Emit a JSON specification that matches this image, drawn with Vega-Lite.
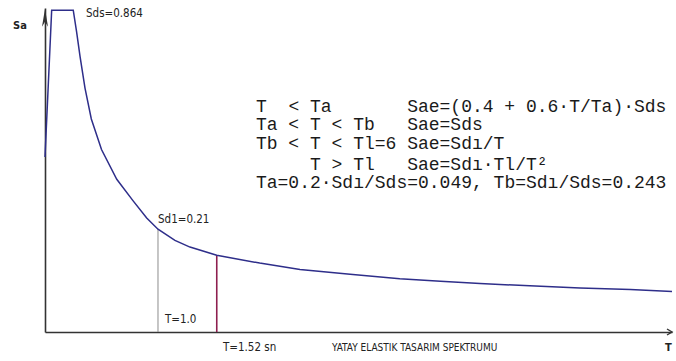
{
  "$schema": "https://vega.github.io/schema/vega-lite/v6.json",
  "width": 627,
  "height": 324,
  "autosize": {"type": "none"},
  "padding": {"left": 45, "top": 8, "right": 4, "bottom": 29},
  "background": "white",
  "config": {"view": {"stroke": null}},
  "datasets": {
    "curve": [
      {"T": 0, "Sa": 0.47},
      {"T": 0.059, "Sa": 0.864},
      {"T": 0.25, "Sa": 0.864},
      {"T": 0.28, "Sa": 0.805},
      {"T": 0.31, "Sa": 0.74},
      {"T": 0.354, "Sa": 0.655},
      {"T": 0.41, "Sa": 0.572},
      {"T": 0.5, "Sa": 0.49},
      {"T": 0.635, "Sa": 0.41},
      {"T": 0.78, "Sa": 0.352},
      {"T": 0.9, "Sa": 0.306},
      {"T": 1.0, "Sa": 0.276},
      {"T": 1.15, "Sa": 0.246},
      {"T": 1.283, "Sa": 0.228},
      {"T": 1.52, "Sa": 0.206},
      {"T": 1.9, "Sa": 0.185},
      {"T": 2.257, "Sa": 0.168},
      {"T": 2.7, "Sa": 0.155},
      {"T": 3.14, "Sa": 0.143},
      {"T": 3.5, "Sa": 0.136},
      {"T": 3.85, "Sa": 0.13},
      {"T": 4.29, "Sa": 0.124},
      {"T": 4.735, "Sa": 0.118},
      {"T": 5.18, "Sa": 0.114},
      {"T": 5.549, "Sa": 0.109}
    ],
    "labels": [
      {"T": 0.363, "Sa": 0.846, "label": "Sds=0.864"},
      {"T": 1.0, "Sa": 0.293, "label": "Sd1=0.21"},
      {"T": 1.062, "Sa": 0.024, "label": "T=1.0"},
      {"T": 1.575, "Sa": -0.05, "label": "T=1.52 sn"}
    ],
    "bold": [
      {"T": -0.283, "Sa": 0.814, "label": "Sa"},
      {"T": 5.487, "Sa": -0.052, "label": "T"}
    ],
    "title": [
      {"T": 2.54, "Sa": -0.05, "label": "YATAY ELASTIK TASARIM SPEKTRUMU"}
    ],
    "formula": [
      {"T": 1.867, "Sa": 0.591, "label": "T"},
      {"T": 2.154, "Sa": 0.591, "label": "< Ta"},
      {"T": 3.205, "Sa": 0.591, "label": "Sae=(0.4 + 0.6\u00b7T/Ta)\u00b7Sds"},
      {"T": 1.867, "Sa": 0.542, "label": "Ta < T < Tb"},
      {"T": 3.205, "Sa": 0.542, "label": "Sae=Sds"},
      {"T": 1.867, "Sa": 0.491, "label": "Tb < T < Tl=6"},
      {"T": 3.205, "Sa": 0.491, "label": "Sae=Sd\u0131/T"},
      {"T": 2.345, "Sa": 0.435, "label": "T > Tl"},
      {"T": 3.205, "Sa": 0.435, "label": "Sae=Sd\u0131\u00b7Tl/T\u00b2"},
      {"T": 1.867, "Sa": 0.387, "label": "Ta=0.2\u00b7Sd\u0131/Sds=0.049,"},
      {"T": 3.97, "Sa": 0.387, "label": "Tb=Sd\u0131/Sds=0.243"}
    ]
  },
  "encoding": {
    "x": {
      "field": "T", "type": "quantitative",
      "scale": {"domain": [0, 5.549], "nice": false, "zero": false},
      "axis": {"domain": true, "domainColor": "#333333", "domainWidth": 1.6, "ticks": false, "labels": false, "grid": false, "title": null}
    },
    "y": {
      "field": "Sa", "type": "quantitative",
      "scale": {"domain": [0, 0.87], "nice": false},
      "axis": {"domain": true, "domainColor": "#333333", "domainWidth": 1.6, "ticks": false, "labels": false, "grid": false, "title": null}
    }
  },
  "layer": [
    {
      "data": {"values": [{"T": 1.0, "Sa": 0.276}]},
      "mark": {"type": "rule", "color": "#8c8c8c", "strokeWidth": 1},
      "encoding": {"y2": {"datum": 0}}
    },
    {
      "data": {"values": [{"T": 1.52, "Sa": 0.206}]},
      "mark": {"type": "rule", "color": "#8e1f4f", "strokeWidth": 1.6},
      "encoding": {"y2": {"datum": 0}}
    },
    {
      "data": {"name": "curve"},
      "mark": {"type": "line", "color": "#2e2e8a", "strokeWidth": 1.5, "clip": false},
      "encoding": {}
    },
    {
      "data": {"values": [{"T": 0, "Sa": 0.868}]},
      "mark": {"type": "point", "shape": "M0,0L-0.3,1.8L0,1.3L0.3,1.8Z", "filled": true, "color": "#333333", "size": 400, "opacity": 1}
    },
    {
      "data": {"values": [{"T": 5.549, "Sa": 0}]},
      "mark": {"type": "point", "shape": "M-1,-0.6L0,0L-1,0.6", "filled": false, "color": "#333333", "strokeWidth": 1.4, "size": 100, "opacity": 1}
    },
    {
      "data": {"name": "labels"},
      "mark": {"type": "text", "align": "left", "baseline": "alphabetic", "font": "DejaVu Sans Condensed", "fontSize": 11.5, "color": "#222222"},
      "encoding": {"text": {"field": "label"}}
    },
    {
      "data": {"name": "bold"},
      "mark": {"type": "text", "align": "left", "baseline": "alphabetic", "font": "DejaVu Sans Condensed", "fontSize": 11, "fontWeight": "bold", "color": "#222222"},
      "encoding": {"text": {"field": "label"}}
    },
    {
      "data": {"name": "title"},
      "mark": {"type": "text", "align": "left", "baseline": "alphabetic", "font": "DejaVu Sans Condensed", "fontSize": 10, "color": "#222222"},
      "encoding": {"text": {"field": "label"}}
    },
    {
      "data": {"name": "formula"},
      "mark": {"type": "text", "align": "left", "baseline": "alphabetic", "font": "Liberation Mono", "fontSize": 18, "color": "#1a1a1a"},
      "encoding": {"text": {"field": "label"}}
    }
  ]
}
